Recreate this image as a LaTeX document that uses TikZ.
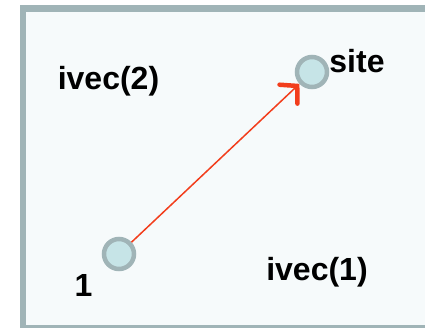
\documentclass[tikz,border=0pt]{standalone}
\usepackage{fontspec}
\setmainfont{Liberation Sans}
\usetikzlibrary{arrows.meta}
\definecolor{rim}{HTML}{A0B4B7}
\definecolor{ball}{HTML}{C6E4E7}
\definecolor{paper}{HTML}{F6FAFB}
\definecolor{vec}{HTML}{F23D1C}
\tikzset{
  pt/.style={circle, draw=rim, fill=ball, line width=4.5pt, minimum size=30pt, inner sep=0pt},
  lbl/.style={font=\fontsize{32}{32}\selectfont\bfseries, anchor=base, inner sep=0pt}
}
\begin{document}
\begin{tikzpicture}[x=1pt,y=-1pt]
    \useasboundingbox (0,0) rectangle (425,327);
    \clip (0,0) rectangle (425,327);
    % cell box, runs off to the right and bottom
    \draw[rim, fill=paper, line width=6.5pt] (23,8.5) rectangle (445,328);
    \node[pt] (one) at (119,254) {};
    \node[pt] (site) at (312,72) {};
    \draw[vec, line width=1.5pt,
      -{Straight Barb[length=12pt, width=26pt, line width=4.5pt, line cap=round]}] (one) -- (site);
    \node[lbl] (i2) at (108.5,89) {ivec(2)};
    \node[lbl] (i1) at (317,280) {ivec(1)};
    \node[lbl] (s) at (357,72) {site};
    \node[lbl] (n1) at (83.5,296) {1};
\end{tikzpicture}
\end{document}
